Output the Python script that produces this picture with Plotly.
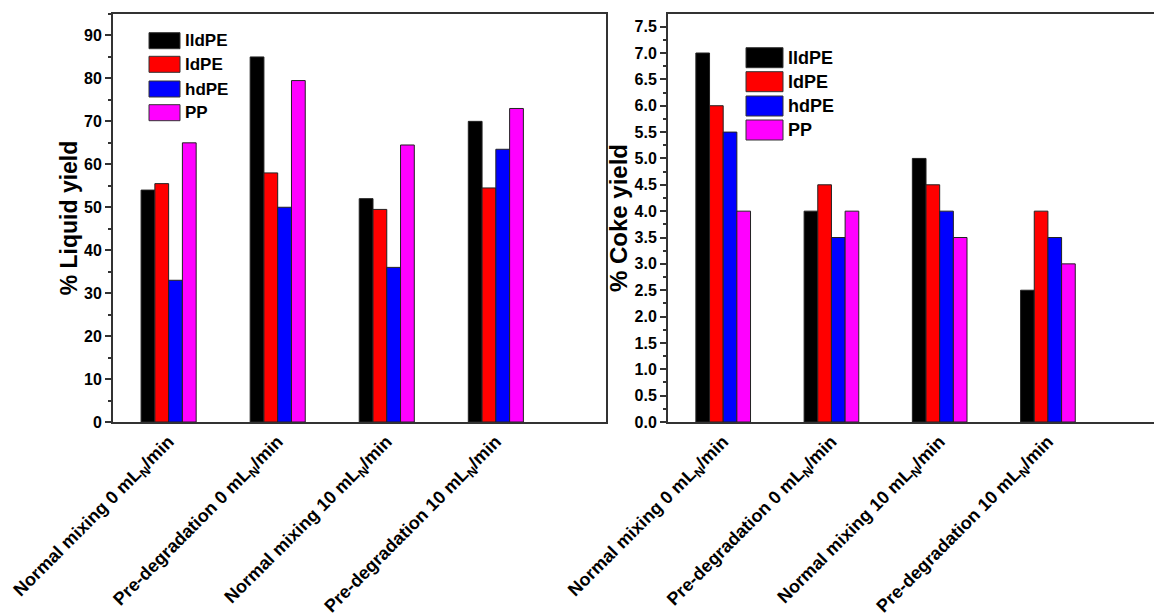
import plotly.graph_objects as go

# Conditions (x categories)
conditions = [
    "Normal mixing 0 mL<sub>N</sub>/min",
    "Pre-degradation 0 mL<sub>N</sub>/min",
    "Normal mixing 10 mL<sub>N</sub>/min",
    "Pre-degradation 10 mL<sub>N</sub>/min",
]
polymers = ["lldPE", "ldPE", "hdPE", "PP"]
colors = ["#000000", "#ff0000", "#0000ff", "#ff00ff"]

# % liquid yield per polymer
liquid_lldpe = [54, 85, 52, 70]
liquid_ldpe = [55.5, 58, 49.5, 54.5]
liquid_hdpe = [33, 50, 36, 63.5]
liquid_pp = [65, 79.5, 64.5, 73]

# % coke yield per polymer
coke_lldpe = [7.0, 4.0, 5.0, 2.5]
coke_ldpe = [6.0, 4.5, 4.5, 4.0]
coke_hdpe = [5.5, 3.5, 4.0, 3.5]
coke_pp = [4.0, 4.0, 3.5, 3.0]

liquid = [liquid_lldpe, liquid_ldpe, liquid_hdpe, liquid_pp]
coke = [coke_lldpe, coke_ldpe, coke_hdpe, coke_pp]

W, H = 1154, 614
FONT = "Liberation Sans, Arial, sans-serif"

fig = go.Figure()
xs = list(range(len(conditions)))
for name, col, vals in zip(polymers, colors, liquid):
    fig.add_trace(go.Bar(x=xs, y=vals, name=name, marker=dict(color=col, line=dict(color="#222", width=1)),
                         xaxis="x", yaxis="y", offsetgroup=name, showlegend=False))
for name, col, vals in zip(polymers, colors, coke):
    fig.add_trace(go.Bar(x=xs, y=vals, name=name, marker=dict(color=col, line=dict(color="#222", width=1)),
                         xaxis="x2", yaxis="y2", offsetgroup=name, showlegend=False))


def px(x):
    return x / W


def py(y):
    return 1 - y / H


ytickfont = dict(family=FONT, size=16, color="black", weight="bold")
xtickfont = dict(family=FONT, size=18, color="black", weight="bold")

common_x = dict(
    tickmode="array", tickvals=xs, ticktext=conditions,
    tickangle=-45, tickfont=xtickfont, showline=True, linecolor="#333", linewidth=2,
    ticks="", showgrid=False, zeroline=False, automargin=False,
    ticklabelstandoff=0,
)
common_y = dict(
    tickfont=ytickfont, showline=True, linecolor="#333", linewidth=2, ticks="outside",
    ticklen=6, tickwidth=1.5, tickcolor="#333", showgrid=False, zeroline=False, automargin=False,
)

fig.update_layout(
    width=W, height=H, margin=dict(l=0, r=0, t=0, b=0),
    paper_bgcolor="white", plot_bgcolor="white",
    barmode="group", bargap=0.495, bargroupgap=0,
    font=dict(family=FONT, color="black"),
    xaxis=dict(domain=[px(113), px(606)], range=[-0.51, 4.01], anchor="y", mirror=True, **common_x),
    yaxis=dict(domain=[py(422), py(14)], range=[0, 95], dtick=10, anchor="x", mirror=True,
               tickformat="d", minor=dict(dtick=5, ticks="outside", ticklen=3, tickcolor="#333"),
               title=dict(text="% Liquid yield", standoff=0,
                          font=dict(family=FONT, size=23, color="black", weight="bold")),
               **common_y),
    xaxis2=dict(domain=[px(668), 1.0], range=[-0.51, 3.98], anchor="y2", mirror=True, **common_x),
    yaxis2=dict(domain=[py(422), py(14)], range=[0, 7.74], dtick=0.5, anchor="x2", mirror=False,
                tickformat=".1f", minor=dict(dtick=0.25, ticks="outside", ticklen=3, tickcolor="#333"),
                title=dict(text="% Coke yield", standoff=0,
                           font=dict(family=FONT, size=24, color="black", weight="bold")),
                **common_y),
)

# Hand-drawn legends (large swatches) for both panels
shapes = []
annotations = []


def add_legend(x0, x1, ycenters, h, fsize, tx):
    for name, col, yc in zip(polymers, colors, ycenters):
        shapes.append(dict(type="rect", xref="paper", yref="paper",
                           x0=px(x0), x1=px(x1), y0=py(yc + h / 2), y1=py(yc - h / 2),
                           fillcolor=col, line=dict(color="#333", width=1)))
        annotations.append(dict(xref="paper", yref="paper", x=px(tx), y=py(yc), xanchor="left",
                                yanchor="middle", text=f"<b>{name}</b>", showarrow=False,
                                font=dict(family=FONT, size=fsize, color="black")))


add_legend(149, 180, [40.7, 64.3, 89, 112.7], 16, 17, 183)
add_legend(746, 783, [57.7, 81.7, 106, 130], 20, 18, 786)

fig.update_layout(shapes=shapes, annotations=annotations)

fig.write_html("out.html")
